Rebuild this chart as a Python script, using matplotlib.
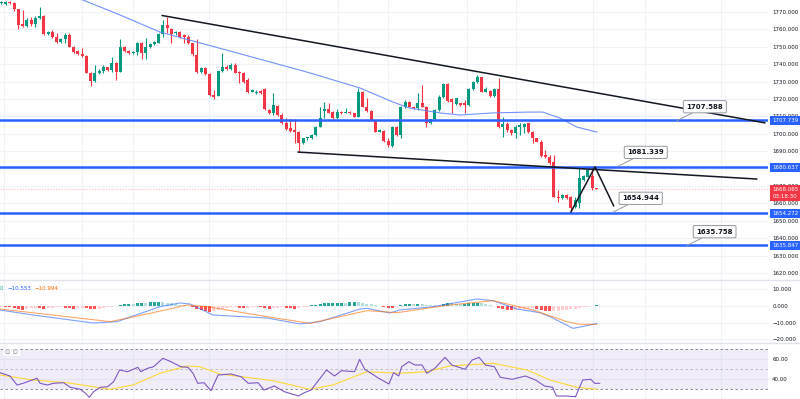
import matplotlib
matplotlib.use("Agg")
import matplotlib.pyplot as plt
import numpy as np
from matplotlib.patches import Rectangle
from matplotlib.ticker import FixedLocator, FuncFormatter

# ---- candles (one per bar, left to right) ----
opens = [1775.0, 1774.6, 1775.9, 1775.4, 1771.5, 1762.9, 1762.1, 1765.4, 1763.1, 1766.4,
         1767.7, 1757.6, 1758.5, 1755.8, 1752.9, 1754.3, 1756.8, 1750.1, 1747.6, 1745.7,
         1744.9, 1735.1, 1730.3, 1735.1, 1735.9, 1738.2, 1736.7, 1740.9, 1735.7, 1749.7,
         1747.8, 1746.2, 1747.2, 1752.0, 1746.2, 1749.7, 1751.4, 1752.4, 1757.4, 1762.5,
         1760.0, 1757.7, 1758.3, 1756.8, 1755.8, 1752.0, 1745.3, 1735.7, 1738.0, 1734.2,
         1722.3, 1721.9, 1736.1, 1738.2, 1737.1, 1739.5, 1735.7, 1735.1, 1730.9, 1724.2,
         1723.3, 1724.8, 1725.5, 1713.7, 1711.75, 1716.0, 1710.8, 1706.0, 1703.1, 1702.2,
         1701.2, 1694.5, 1697.4, 1697.4, 1699.3, 1704.1, 1713.3, 1714.05, 1712.7, 1708.9,
         1712.7, 1712.1, 1712.7, 1711.75, 1709.8, 1724.2, 1715.6, 1713.3, 1707.9, 1701.2,
         1701.8, 1696.0, 1693.0, 1704.1, 1699.6, 1715.6, 1718.5, 1715.6, 1714.6, 1717.9,
         1715.6, 1706.0, 1708.3, 1713.7, 1721.3, 1728.6, 1719.8, 1717.1, 1717.5, 1717.5,
         1716.5, 1725.5, 1730.0, 1732.4, 1724.2, 1724.8, 1721.7, 1725.5, 1704.1, 1705.6,
         1702.2, 1700.3, 1703.7, 1704.1, 1706.0, 1701.2, 1697.4, 1695.5, 1687.8, 1686.9,
         1684.0, 1663.9, 1662.9, 1664.8, 1663.9, 1657.7, 1660.0, 1673.4, 1675.4, 1675.7,
         1668.7]
highs = [1776.3, 1776.5, 1776.5, 1776.0, 1772.0, 1771.2, 1766.4, 1767.3, 1767.7, 1773.1,
         1768.3, 1759.0, 1759.7, 1757.7, 1754.8, 1757.7, 1757.7, 1750.3, 1748.0, 1749.1,
         1745.2, 1735.7, 1739.5, 1737.0, 1739.5, 1738.6, 1743.9, 1741.5, 1754.3, 1750.2,
         1748.3, 1747.6, 1752.9, 1752.9, 1754.9, 1752.4, 1753.4, 1757.7, 1765.4, 1767.0,
         1760.6, 1759.3, 1758.8, 1757.4, 1756.8, 1752.4, 1754.3, 1738.6, 1738.3, 1734.75,
         1725.2, 1736.3, 1746.2, 1739.5, 1740.5, 1740.5, 1736.0, 1735.7, 1731.9, 1725.6,
         1725.2, 1725.2, 1726.1, 1714.0, 1723.3, 1716.4, 1711.75, 1708.9, 1708.3, 1708.3,
         1701.4, 1697.8, 1698.3, 1699.8, 1704.5, 1715.6, 1718.5, 1717.5, 1713.0, 1714.05,
         1713.0, 1714.6, 1713.0, 1712.0, 1726.1, 1724.5, 1720.4, 1713.7, 1708.2, 1702.6,
         1702.2, 1697.4, 1704.5, 1704.5, 1716.0, 1719.4, 1718.9, 1716.0, 1723.3, 1728.0,
         1716.0, 1708.7, 1714.05, 1722.3, 1729.4, 1729.4, 1720.4, 1720.8, 1717.9, 1719.4,
         1726.1, 1730.4, 1733.8, 1732.8, 1727.1, 1725.2, 1726.1, 1731.9, 1709.8, 1707.0,
         1702.6, 1705.1, 1706.0, 1706.4, 1706.4, 1701.4, 1697.8, 1696.4, 1690.7, 1687.8,
         1688.0, 1667.7, 1665.2, 1665.2, 1664.2, 1663.9, 1680.1, 1676.1, 1680.1, 1681.3,
         1669.0]
lows = [1774.6, 1774.2, 1774.6, 1770.8, 1760.2, 1761.6, 1761.6, 1761.9, 1761.6, 1765.8,
        1756.8, 1757.0, 1754.9, 1752.4, 1752.4, 1752.0, 1750.0, 1746.2, 1745.3, 1744.3,
        1734.8, 1727.5, 1730.0, 1734.4, 1734.8, 1736.3, 1735.7, 1730.9, 1735.5, 1747.3,
        1745.9, 1745.8, 1745.3, 1742.8, 1742.8, 1749.1, 1751.0, 1752.0, 1755.8, 1757.7,
        1752.4, 1756.8, 1755.3, 1752.4, 1751.8, 1744.7, 1734.75, 1734.75, 1733.8, 1721.7,
        1719.8, 1721.7, 1735.7, 1736.7, 1736.7, 1734.75, 1729.4, 1729.4, 1723.2, 1723.8,
        1723.0, 1723.0, 1713.7, 1711.4, 1710.8, 1710.4, 1705.6, 1702.2, 1701.2, 1694.5,
        1689.5, 1694.0, 1696.4, 1697.0, 1698.7, 1703.8, 1708.9, 1711.75, 1708.5, 1708.3,
        1711.4, 1711.75, 1711.4, 1709.5, 1709.5, 1715.2, 1712.7, 1707.6, 1700.8, 1700.8,
        1695.5, 1692.6, 1692.6, 1698.9, 1697.4, 1714.6, 1715.2, 1714.2, 1713.7, 1715.2,
        1704.1, 1705.6, 1707.9, 1713.3, 1720.4, 1718.5, 1711.75, 1716.7, 1716.1, 1711.75,
        1716.1, 1725.1, 1729.0, 1723.8, 1723.8, 1720.9, 1720.9, 1703.1, 1698.0, 1701.2,
        1699.3, 1697.4, 1699.3, 1700.3, 1700.3, 1694.5, 1695.1, 1686.5, 1685.9, 1682.1,
        1663.5, 1661.0, 1662.5, 1662.5, 1654.9, 1657.2, 1657.2, 1673.0, 1675.0, 1667.7,
        1668.0]
closes = [1775.9, 1775.9, 1775.0, 1771.5, 1762.5, 1762.1, 1765.4, 1763.1, 1766.4, 1767.7,
          1757.2, 1758.5, 1755.4, 1752.9, 1754.3, 1756.8, 1750.1, 1747.2, 1745.7, 1744.9,
          1735.1, 1730.3, 1735.1, 1736.3, 1738.2, 1736.7, 1740.9, 1735.7, 1749.7, 1747.8,
          1746.2, 1747.2, 1752.0, 1746.2, 1749.7, 1751.4, 1752.9, 1757.4, 1762.5, 1760.6,
          1757.4, 1758.3, 1755.8, 1755.8, 1752.0, 1745.9, 1735.7, 1737.6, 1734.2, 1722.3,
          1721.3, 1736.1, 1738.2, 1737.1, 1739.5, 1735.1, 1734.75, 1729.9, 1724.2, 1725.2,
          1724.2, 1723.3, 1714.05, 1711.75, 1716.5, 1710.8, 1706.0, 1702.75, 1701.8, 1701.2,
          1694.5, 1697.4, 1697.96, 1699.3, 1704.1, 1708.9, 1714.05, 1712.1, 1708.9, 1712.7,
          1711.75, 1712.7, 1711.75, 1709.8, 1724.2, 1715.6, 1713.3, 1707.9, 1701.2, 1702.2,
          1696.0, 1693.6, 1704.1, 1699.3, 1715.6, 1718.5, 1715.6, 1714.6, 1717.9, 1715.6,
          1706.4, 1708.3, 1713.7, 1721.3, 1728.6, 1719.0, 1718.5, 1720.4, 1716.5, 1716.5,
          1725.5, 1730.0, 1732.4, 1724.2, 1725.5, 1721.7, 1725.5, 1703.7, 1705.6, 1702.2,
          1700.3, 1703.7, 1705.1, 1705.6, 1701.2, 1697.4, 1695.5, 1687.2, 1686.5, 1683.0,
          1663.9, 1662.9, 1664.8, 1662.9, 1657.2, 1662.0, 1674.4, 1675.7, 1679.2, 1668.7,
          1668.065]

# moving average read at some bars
ma_bar = [17.3, 19.2, 27.9, 37.3, 50.3, 63.2, 72.6, 84.4, 92.1, 96.1, 103.2, 107.9,
          115.7, 124.4, 127.4, 131.4, 135.4, 140.1]
ma_val = [1778.0, 1776.9, 1768.3, 1758.5, 1749.9, 1741.3, 1735.0, 1726.3, 1718.3, 1714.8,
          1712.0, 1710.8, 1712.0, 1712.5, 1712.5, 1709.1, 1703.9, 1701.0]

levels = [1707.739, 1680.637, 1654.272, 1635.847]
last_price = 1668.065
countdown = "03:18:30"

# drawn lines: (bar, price) pairs
upper_trend = ([37.8, 179.7], [1768.0, 1706.3])
lower_trend = ([69.8, 177.8], [1689.5, 1674.0])
swing_path = ([134.0, 139.7, 144.1], [1655.0, 1681.0, 1658.5])

callout_bar = [159.0, 145.1, 143.9, 161.3]
callout_val = [1707.588, 1681.339, 1654.944, 1635.758]

# MACD
hist = [-0.4, -0.5, -0.7,
        -1.2, -1.8, -2.1, -1.6, -1.2,
        -1.0, -1.3, -1.6, -1.4, -1.1, -0.8, -0.7, -0.9, -1.3, -1.6, -1.3, -1.0, -1.2, -1.7,
        -1.9, -1.5, -1.0, -0.6, -0.3,
        0.3, 0.6, 1.2, 1.5, 1.4, 1.8, 2.0, 1.9, 2.2, 2.4, 2.6, 2.5,
        2.0, 1.6, 1.3, 0.9, 0.6, 0.2,
        -0.8, -1.6, -2.3, -2.8, -3.4, -3.0, -2.2, -1.5, -1.0,
        -0.8, -0.6, -0.9, -1.3, -1.1, -0.8, -0.6, -0.8, -1.2, -1.5, -1.2, -0.9, -0.7, -0.9,
        -1.3, -1.6, -1.2, -0.8, -0.4,
        0.4, 0.9, 1.3, 1.6, 1.8, 1.9, 2.0, 2.1, 1.9, 2.2, 2.4, 2.3,
        1.8, 1.4, 1.0, 0.6, 0.2,
        -0.5, -0.9, -1.2, -0.6,
        0.8, 1.2, 1.5, 1.4, 1.5,
        1.1, 0.9, 0.6, 0.4, 0.3,
        1.2, 2.0, 1.8, 1.5, 1.3, 1.4, 1.6, 1.9, 2.1,
        1.6, 1.1, 0.7, 0.3,
        -1.0, -1.8, -2.4, -2.6,
        -2.2, -1.8, -1.5, -1.3, -1.1,
        -1.8, -2.4, -2.8, -3.2,
        -3.0, -2.8, -2.5, -2.2, -1.8, -1.5, -1.1, -0.7, -0.3,
        0.3, 0.6]
macd_bar = [-0.3, 7.4, 21.6, 27.2, 37.3, 42.0, 44.4, 49.8, 62.5, 70.3, 75.0, 84.4, 86.0,
            91.4, 93.8, 101.6, 111.9, 115.7, 121.3, 126.7, 129.1, 134.5, 136.6, 140.1]
macd_val = [-2.4, -5.4, -10.2, -9.4, -0.4, 1.8, 1.2, -5.4, -7.2, -10.8, -9.4, -1.8, -1.4,
            -4.2, -2.4, -0.4, 4.2, 3.2, -1.8, -4.0, -6.4, -13.4, -12.4, -10.553]
signal_bar = [-0.3, 15.4, 25.6, 35.0, 43.7, 48.4, 62.5, 72.6, 86.0, 93.1, 105.5, 115.7,
              125.1, 133.1, 136.1, 140.1]
signal_val = [-1.8, -6.4, -9.4, -4.4, 0.6, -0.4, -6.4, -10.4, -2.8, -4.0, 0.6, 3.2,
              -2.4, -9.4, -11.0, -10.994]

# RSI
rsi_bar = [-0.3, 2.0, 3.7, 5.1, 6.8, 8.4, 9.1, 10.8, 12.2, 14.6, 16.2, 18.6, 19.8, 20.7,
           21.7, 23.3, 25.0, 26.4, 27.8, 29.7, 32.1, 32.8, 34.4, 35.8, 38.0, 39.9, 42.2,
           43.9, 45.1, 46.2, 47.7, 49.3, 51.0, 54.0, 56.4, 58.1, 60.4, 61.8, 64.2, 66.6,
           69.9, 71.3, 72.9, 76.5, 78.4, 80.0, 83.1, 84.3, 85.5, 88.8, 91.2, 92.3, 93.5,
           94.2, 95.9, 97.3, 99.0, 100.1, 102.0, 104.4, 106.0, 109.1, 110.8, 112.4, 113.9,
           116.0, 117.4, 120.2, 123.3, 125.7, 127.8, 129.7, 130.6, 132.8, 135.1, 136.8,
           138.7, 139.6, 140.8]
rsi_val = [46.6, 43.3, 34.3, 36.0, 38.6, 41.0, 36.0, 34.3, 36.0, 36.6, 32.0, 30.0, 26.0,
           22.0, 27.6, 32.0, 32.6, 37.6, 49.3, 47.6, 52.0, 47.6, 51.0, 52.6, 61.0, 57.6,
           52.6, 52.0, 46.0, 36.0, 36.6, 28.6, 44.3, 45.3, 42.6, 36.0, 36.6, 29.3, 33.3,
           27.6, 23.3, 26.6, 29.3, 49.3, 43.3, 48.6, 47.6, 60.0, 50.0, 41.0, 35.3, 46.6,
           43.3, 52.6, 57.6, 54.3, 54.3, 46.0, 51.0, 62.0, 54.3, 50.0, 59.3, 62.0, 54.3,
           52.6, 42.0, 40.0, 43.3, 39.3, 33.3, 32.0, 23.3, 23.3, 22.6, 39.3, 40.0, 36.0,
           36.0]
rsi_ma_bar = [-0.3, 7.4, 15.4, 25.6, 31.0, 37.3, 43.7, 46.7, 51.4, 63.9, 72.6, 78.0, 86.0,
              93.8, 100.1, 105.5, 115.7, 123.7, 129.1, 135.4, 140.1]
rsi_ma_val = [44.3, 39.3, 36.6, 30.0, 34.3, 46.0, 53.3, 52.6, 45.3, 38.6, 30.0, 34.3, 47.6,
              46.0, 47.6, 53.3, 56.0, 49.3, 39.3, 32.0, 30.0]

time_grid = [0.6, 19.0, 31.0, 48.8, 67.0, 79.2, 91.0, 109.6, 121.1, 139.2, 151.4, 169.3]

GREEN = "#089981"
RED = "#f23645"
BLUE = "#2962ff"
GRID = "#f0f3fa"
TXT = "#131722"

W, H = 800, 399
fig = plt.figure(figsize=(8, 3.99), dpi=100)
fig.patch.set_facecolor("white")

plot_w = 768 / W
ax = fig.add_axes([0, 1 - 280 / H, plot_w, 280 / H])
ax_m = fig.add_axes([0, 1 - 343 / H, plot_w, 63 / H])
ax_r = fig.add_axes([0, 0, plot_w, 56 / H])

xlim = (-0.33, 180.4)
for a in (ax, ax_m, ax_r):
    a.set_xlim(*xlim)
    for s in a.spines.values():
        s.set_visible(False)
    a.yaxis.tick_right()
    a.tick_params(axis="y", length=0, pad=3, labelsize=4, labelcolor=TXT)
    a.tick_params(axis="x", length=0, labelbottom=False)
    a.xaxis.set_major_locator(FixedLocator(time_grid))
    a.grid(True, color=GRID, lw=0.8)
    a.set_axisbelow(True)


def fmt3(v, _):
    return f"{v:.3f}".replace("-", "\u2212")


# ---- price panel ----
ax.set_ylim(1615.98, 1776.9)
ax.yaxis.set_major_locator(FixedLocator(np.arange(1620, 1771, 10)))
ax.yaxis.set_major_formatter(FuncFormatter(fmt3))

x = np.arange(len(closes))
o, hi, lo, c = (np.array(v) for v in (opens, highs, lows, closes))
col = np.where(c >= o, GREEN, RED)
ax.vlines(x, lo, hi, colors=col, lw=0.8, zorder=3)
ax.bar(x, np.maximum(np.abs(c - o), 0.35), bottom=np.minimum(o, c), width=0.72,
       color=col, linewidth=0, zorder=4)

ax.plot(ma_bar, ma_val, color="#5b7fff", lw=0.8, alpha=0.85, zorder=5)

for lv in levels:
    ax.axhline(lv, color=BLUE, lw=1.8, zorder=6)
ax.axhline(last_price, color=RED, lw=0.8, ls=(0, (1, 1.5)), alpha=0.35, zorder=2)

for xs, ys in (upper_trend, lower_trend, swing_path):
    ax.plot(xs, ys, color="#131722", lw=1.1, zorder=7, solid_capstyle="round")

for bx, val in zip(callout_bar, callout_val):
    ax.annotate(f"{val:.3f}", xy=(bx, val), xytext=(20, 10), textcoords="offset points",
                ha="center", va="center", fontsize=5, fontweight="bold", color=TXT,
                bbox=dict(boxstyle="round,pad=0.45,rounding_size=0.2", fc="white",
                          ec="#9598a1", lw=0.7),
                arrowprops=dict(arrowstyle="-", color="#9598a1", lw=0.7,
                                shrinkA=0, shrinkB=0), zorder=15)

tr = ax.get_yaxis_transform()
tag_x = 770 / 768
tag_w = 30 / 768
for lv in levels:
    ax.add_patch(Rectangle((tag_x, lv - 2.4), tag_w, 4.8, transform=tr, facecolor=BLUE,
                           edgecolor="none", clip_on=False, zorder=20))
    ax.text(772.5 / 768, lv, f"{lv:.3f}", transform=tr, fontsize=4, color="white",
            ha="left", va="center", zorder=21, clip_on=False)
ax.add_patch(Rectangle((tag_x, last_price - 6.6), tag_w, 9.0, transform=tr, facecolor=RED,
                       edgecolor="none", clip_on=False, zorder=20))
ax.text(772.5 / 768, last_price - 0.3, f"{last_price:.3f}", transform=tr, fontsize=4,
        color="white", ha="left", va="center", zorder=21, clip_on=False)
ax.text(772.5 / 768, last_price - 4.1, countdown, transform=tr, fontsize=4,
        color="white", ha="left", va="center", zorder=21, clip_on=False)

# ---- MACD panel ----
ax_m.set_ylim(-22.2, 15.6)
ax_m.yaxis.set_major_locator(FixedLocator([10, 0, -10, -20]))
ax_m.yaxis.set_major_formatter(FuncFormatter(fmt3))
hcol = []
prev = hist[0]
for v in hist:
    if v >= 0:
        hcol.append("#26a69a" if v >= prev else "#b2dfdb")
    else:
        hcol.append("#ff5252" if v < prev else "#ffcdd2")
    prev = v
ax_m.bar(np.arange(len(hist)), hist, width=0.72, color=hcol, linewidth=0, zorder=3)
ax_m.plot(macd_bar, macd_val, color="#2962ff", lw=0.8, alpha=0.6, zorder=4)
ax_m.plot(signal_bar, signal_val, color="#ff6d00", lw=0.8, alpha=0.6, zorder=4)
leg_y = (343 - 289) / 63
ax_m.text(0.0, leg_y, "0", transform=ax_m.transAxes, fontsize=4, color="#26a69a",
          va="center", ha="left")
ax_m.text(7 / 768, leg_y, fmt3(macd_val[-1], None), transform=ax_m.transAxes, fontsize=4,
          color="#2962ff", va="center", ha="left")
ax_m.text(34 / 768, leg_y, fmt3(signal_val[-1], None), transform=ax_m.transAxes,
          fontsize=4, color="#ff6d00", va="center", ha="left")

# ---- RSI panel ----
ax_r.set_ylim(20.3, 76.3)
ax_r.yaxis.set_major_locator(FixedLocator([60, 40, 20]))
ax_r.yaxis.set_major_formatter(FuncFormatter(lambda v, _: f"{v:.2f}"))
ax_r.axhspan(30, 70, color="#7e57c2", alpha=0.1, lw=0, zorder=1)
ax_r.axhline(70, color="#787b86", lw=0.6, ls=(0, (3, 3)), zorder=2)
ax_r.axhline(50, color="#787b86", lw=0.6, ls=(0, (3, 3)), alpha=0.5, zorder=2)
ax_r.axhline(30, color="#787b86", lw=0.6, ls=(0, (3, 3)), zorder=2)
ax_r.plot(rsi_bar, rsi_val, color="#7e57c2", lw=0.8, zorder=4)
ax_r.plot(rsi_ma_bar, rsi_ma_val, color="#fdd835", lw=0.8, zorder=3)
ax_r.text(5 / 768, (399 - 352) / 56, "\u2205 \u2205", transform=ax_r.transAxes, fontsize=4.5,
          color="#787b86", va="center", ha="left",
          bbox=dict(boxstyle="square,pad=0.3", fc="white", ec="none", alpha=0.8))

for ypx in (280, 343):
    fig.add_artist(plt.Line2D([0, 1], [1 - ypx / H] * 2, transform=fig.transFigure,
                              color="#e0e3eb", lw=1.0))

fig.savefig("out.png", dpi=100)
